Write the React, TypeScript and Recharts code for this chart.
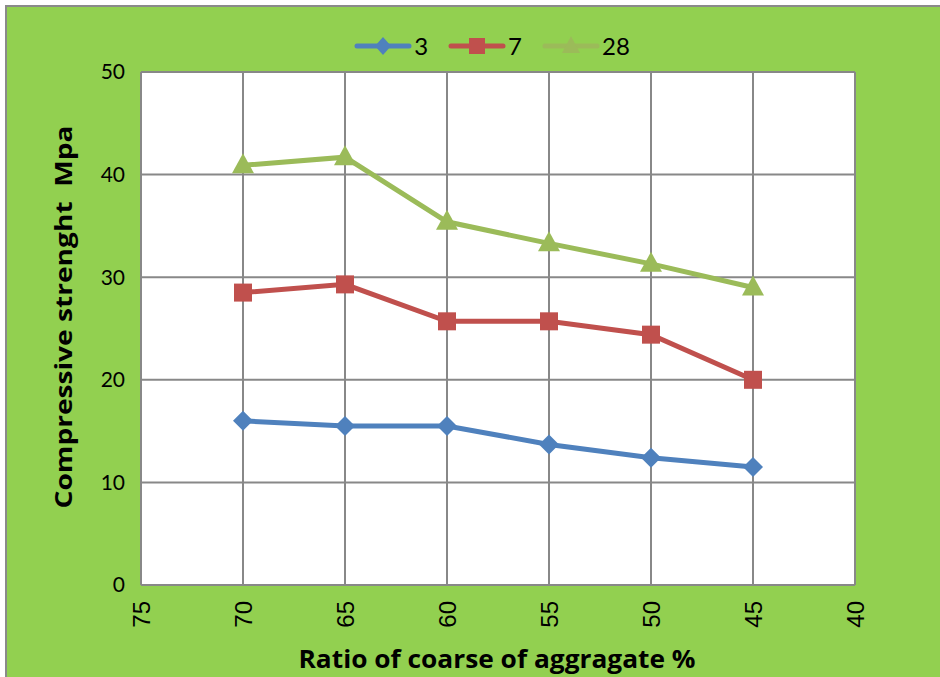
import React from "react";
import { LineChart, Line, XAxis, YAxis, CartesianGrid, Legend, Label } from "recharts";

const ratios = [70, 65, 60, 55, 50, 45];
const day3 = [16.0, 15.5, 15.5, 13.7, 12.4, 11.5];
const day7 = [28.5, 29.3, 25.7, 25.7, 24.4, 20.0];
const day28 = [40.9, 41.7, 35.4, 33.3, 31.3, 29.0];
const xTicks = [75, 70, 65, 60, 55, 50, 45, 40];
const yTicks = [0, 10, 20, 30, 40, 50];
const seriesNames = ["3", "7", "28"];

const data = ratios.map((r, i) => ({ ratio: r, d3: day3[i], d7: day7[i], d28: day28[i] }));

const BLUE = "#4F81BD";
const RED = "#C0504D";
const GREEN = "#9BBB59";
const GRID = "#888888";

const Diamond = (props: any) => {
  const { cx, cy } = props;
  if (cx == null || cy == null) return null;
  const r = 10;
  return <path d={`M${cx},${cy - r}L${cx + r},${cy}L${cx},${cy + r}L${cx - r},${cy}Z`} fill={BLUE} />;
};
const Square = (props: any) => {
  const { cx, cy } = props;
  if (cx == null || cy == null) return null;
  const r = 9;
  return <rect x={cx - r} y={cy - r} width={2 * r} height={2 * r} fill={RED} />;
};
const Triangle = (props: any) => {
  const { cx, cy } = props;
  if (cx == null || cy == null) return null;
  return <path d={`M${cx},${cy - 12}L${cx + 11},${cy + 8}L${cx - 11},${cy + 8}Z`} fill={GREEN} />;
};

const XTick = (props: any) => {
  const { x, payload } = props;
  return (
    <g transform={`translate(${x},601)`}>
      <text transform="rotate(-90)" x={0} y={0} dy="0.36em" textAnchor="end"
        fontFamily="'Liberation Sans', Arial, sans-serif" fontSize={24} fill="#000">
        {payload.value}
      </text>
    </g>
  );
};

const legendMarkers = [
  (cx: number, cy: number) => <path d={`M${cx},${cy - 9}L${cx + 8},${cy}L${cx},${cy + 9}L${cx - 8},${cy}Z`} fill={BLUE} />,
  (cx: number, cy: number) => <rect x={cx - 8} y={cy - 8} width={16} height={16} fill={RED} />,
  (cx: number, cy: number) => <path d={`M${cx},${cy - 10}L${cx + 9},${cy + 7}L${cx - 9},${cy + 7}Z`} fill={GREEN} />,
];
const legendColors = [BLUE, RED, GREEN];

const LegendContent = () => (
  <div style={{ display: "flex", justifyContent: "center", alignItems: "center", paddingLeft: 44 }}>
    {seriesNames.map((n, i) => (
      <div key={n} style={{ display: "flex", alignItems: "center", marginRight: i < 2 ? 20 : 0 }}>
        <svg width={58} height={24}>
          <line x1={3} y1={12} x2={55} y2={12} stroke={legendColors[i]} strokeWidth={5} strokeLinecap="round" />
          {legendMarkers[i](29, 12)}
        </svg>
        <span style={{ fontFamily: "Lato, sans-serif", fontSize: 24, color: "#000", marginLeft: 2 }}>{n}</span>
      </div>
    ))}
  </div>
);

export default function App() {
  return (
    <div style={{ position: "absolute", left: 0, top: 0, width: 940, height: 677, overflow: "hidden" }}>
      <div style={{ position: "absolute", left: 5, top: 5, width: 940, height: 680, background: "#92D050", border: "2px solid #8a8a8a", boxSizing: "border-box" }} />
      <div style={{ position: "absolute", left: 0, top: 0 }}>
        <LineChart width={940} height={677} data={data} margin={{ top: 72, right: 85, left: 81, bottom: 32 }}>
          <CartesianGrid stroke={GRID} strokeWidth={2} fill="#ffffff" verticalValues={xTicks} horizontalValues={yTicks} />
          <XAxis dataKey="ratio" type="number" domain={[40, 75]} reversed ticks={xTicks} interval={0}
            height={60} tickLine={false} axisLine={false} tick={<XTick />} allowDataOverflow>
            <Label content={() => (
              <text x={497} y={658} textAnchor="middle" dominantBaseline="central" textLength={397} lengthAdjust="spacingAndGlyphs"
                fontFamily="'Open Sans', sans-serif" fontWeight="bold" fontSize={25} fill="#000">
                Ratio of coarse of aggragate %
              </text>
            )} />
          </XAxis>
          <YAxis type="number" domain={[0, 50]} ticks={yTicks} width={60} tickLine={false} axisLine={false}
            tickMargin={10} tick={{ fontFamily: "Lato, sans-serif", fontSize: 21, fill: "#000" }}>
            <Label content={() => (
              <text x={62} y={317} transform="rotate(-90, 62, 317)" textAnchor="middle" dominantBaseline="central"
                textLength={383} lengthAdjust="spacingAndGlyphs"
                fontFamily="'Open Sans', sans-serif" fontWeight="bold" fontSize={24} fill="#000" xmlSpace="preserve">
                Compressive strenght  Mpa
              </text>
            )} />
          </YAxis>
          <Legend verticalAlign="middle" align="center" layout="horizontal" content={<LegendContent />}
            wrapperStyle={{ top: 31, left: 0, width: 940 }} />
          <Line type="linear" dataKey="d3" name={seriesNames[0]} stroke={BLUE} strokeWidth={5} dot={<Diamond />} activeDot={false} isAnimationActive={false} />
          <Line type="linear" dataKey="d7" name={seriesNames[1]} stroke={RED} strokeWidth={5} dot={<Square />} activeDot={false} isAnimationActive={false} />
          <Line type="linear" dataKey="d28" name={seriesNames[2]} stroke={GREEN} strokeWidth={5} dot={<Triangle />} activeDot={false} isAnimationActive={false} />
        </LineChart>
      </div>
    </div>
  );
}
